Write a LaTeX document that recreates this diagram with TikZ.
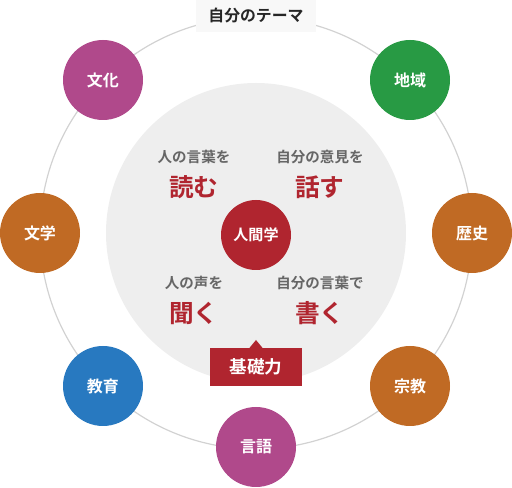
\documentclass[tikz,border=0pt]{standalone}
\usepackage{fontspec}
\setmainfont{Noto Sans CJK JP}[BoldFont={Noto Sans CJK JP Bold}]
\definecolor{cMag}{HTML}{B0498B}
\definecolor{cGreen}{HTML}{289A44}
\definecolor{cOrange}{HTML}{C06A24}
\definecolor{cBlue}{HTML}{2879C0}
\definecolor{cRed}{HTML}{B0252F}
\definecolor{cGray}{HTML}{EEEEEE}
\definecolor{cText}{HTML}{666666}
\definecolor{cLine}{HTML}{D2D2D2}
\definecolor{cLabel}{HTML}{F8F8F8}
\tikzset{
  theme/.style={circle,minimum size=60pt,inner sep=0pt,text=white,font=\bfseries\fontsize{12}{14}\selectfont},
  smalltxt/.style={text=cText,font=\bfseries\fontsize{10.9}{12}\selectfont},
  bigtxt/.style={text=cRed,font=\bfseries\fontsize{18.5}{20}\selectfont},
}
\begin{document}
\begin{tikzpicture}[x=0.75pt,y=-0.75pt]
\useasboundingbox (0,0) rectangle (512,488);
\coordinate (C) at (256,233);
\draw[cLine,line width=0.9pt] (C) circle[radius=216];
\fill[cGray] (C) circle[radius=150];
\node[fill=cLabel,minimum width=90pt,minimum height=24pt,inner sep=0pt,font=\bfseries\fontsize{11.9}{13}\selectfont,text=black!85] (theme) at (256,16) {自分のテーマ};
\node[theme,fill=cMag] (bunka) at (103,80) {文化};
\node[theme,fill=cGreen] (chiiki) at (410,80) {地域};
\node[theme,fill=cOrange] (bungaku) at (40,233) {文学};
\node[theme,fill=cOrange] (rekishi) at (472,233) {歴史};
\node[theme,fill=cBlue] (kyoiku) at (103,386) {教育};
\node[theme,fill=cOrange] (shukyo) at (410,386) {宗教};
\node[theme,fill=cMag] (gengo) at (256,447) {言語};
\node[circle,fill=cRed,minimum size=52.5pt,inner sep=0pt,text=white,font=\bfseries\fontsize{11.3}{13}\selectfont] (ningen) at (256,235) {人間学};
\node[smalltxt] (t1) at (194,157) {人の言葉を};
\node[bigtxt] (b1) at (194,187) {読む};
\node[smalltxt] (t2) at (320,157) {自分の意見を};
\node[bigtxt] (b2) at (320,187) {話す};
\node[smalltxt] (t3) at (194,283) {人の声を};
\node[bigtxt] (b3) at (194,313) {聞く};
\node[smalltxt] (t4) at (320,283) {自分の言葉で};
\node[bigtxt] (b4) at (320,313) {書く};
\node[fill=cRed,minimum width=69pt,minimum height=28.5pt,inner sep=0pt,text=white,font=\bfseries\fontsize{13.2}{15}\selectfont] (kiso) at (256,367) {基礎力};
\fill[cRed] (249,348.5) -- (256,340) -- (263,348.5) -- cycle;
\end{tikzpicture}
\end{document}
